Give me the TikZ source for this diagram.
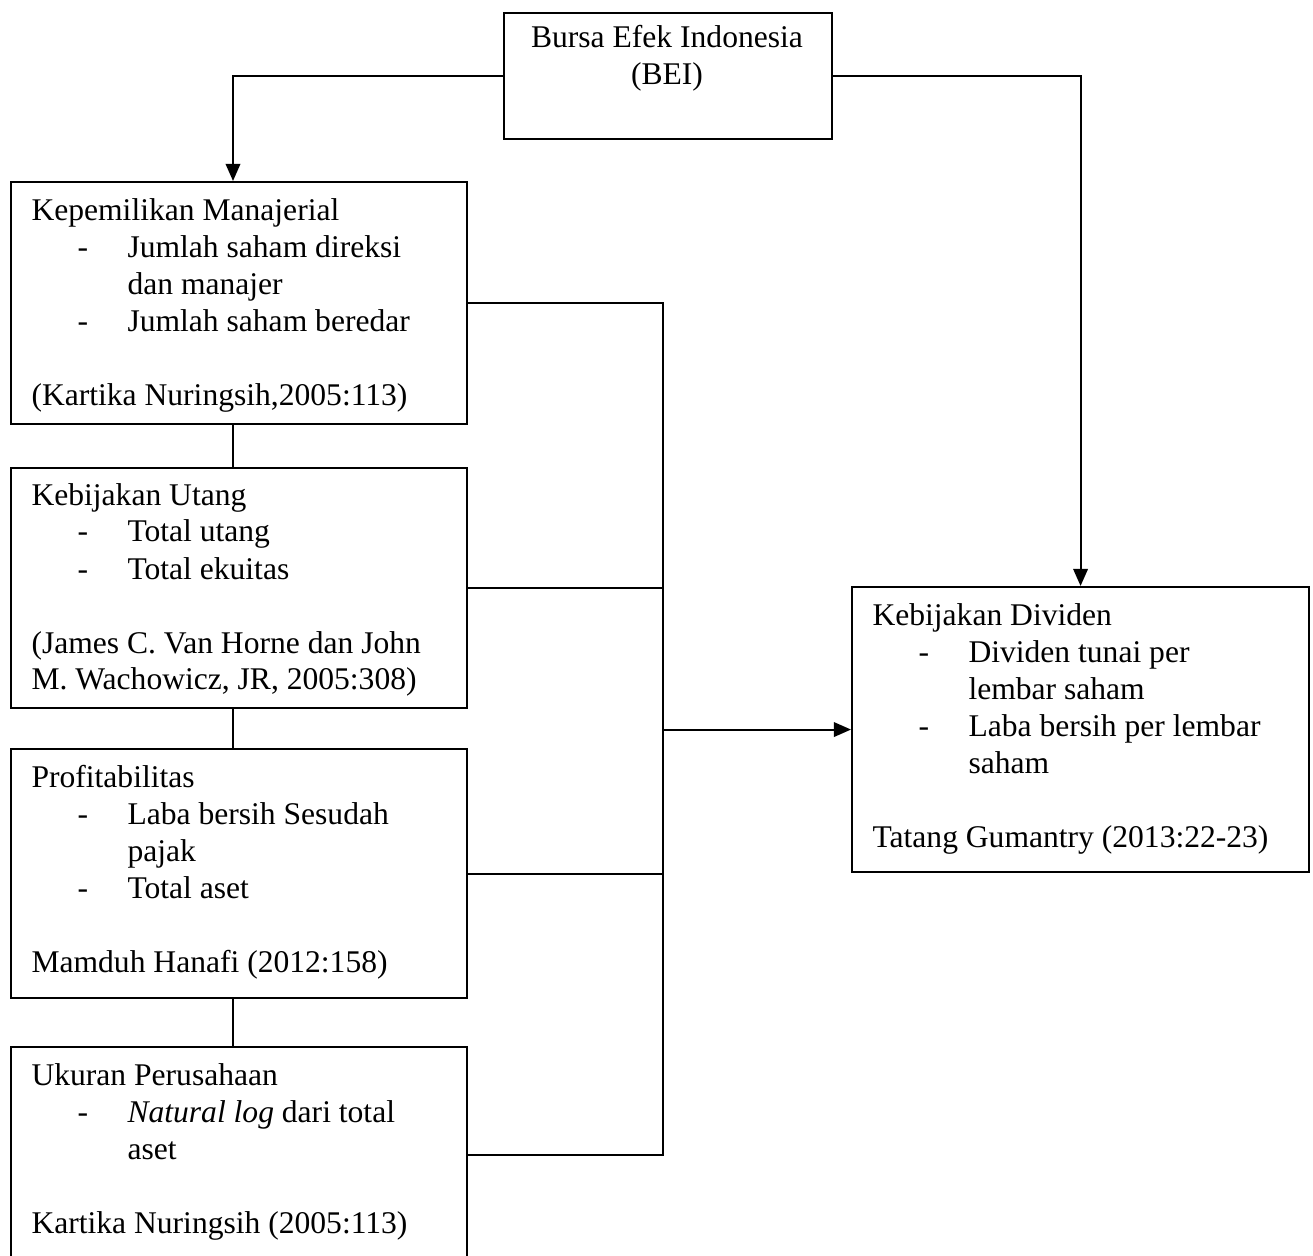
\documentclass[tikz,border=0pt]{standalone}
\usepackage{fontspec}
\setmainfont{Liberation Serif}
\usetikzlibrary{arrows.meta}
\newlength{\px}\setlength{\px}{0.38pt}
\newcommand{\ditem}[1]{\hspace*{46\px}\makebox[50\px][l]{-}#1}
\newcommand{\dcont}[1]{\hspace*{96\px}#1}
\begin{document}
\begin{tikzpicture}[x=\px, y=-\px,
  box/.style={draw, line width=0.8pt, rectangle, inner sep=0pt, anchor=north west},
  txt/.style={inner sep=0pt, anchor=base west, font=\fontsize{12pt}{14.06pt}\selectfont},
  conn/.style={line width=0.8pt},
  arr/.style={line width=0.8pt, -{Triangle[length=6.5pt, width=5.5pt]}}]
\useasboundingbox (0,0) rectangle (1313,1256);
% boxes
\node[box, minimum width=328\px, minimum height=126\px] (bei) at (503,12) {};
\node[box, minimum width=456\px, minimum height=242\px] (km) at (10,181) {};
\node[box, minimum width=456\px, minimum height=240\px] (ku) at (10,467) {};
\node[box, minimum width=456\px, minimum height=249\px] (pr) at (10,748) {};
\node[box, minimum width=456\px, minimum height=216\px] (uk) at (10,1046) {};
\node[box, minimum width=457\px, minimum height=285\px] (dv) at (851,586) {};
% texts
\node[txt, anchor=base] (tbei) at (667,48) {\parbox[t]{320\px}{\centering Bursa Efek Indonesia\\(BEI)}};
\node[txt] (tkm) at (31,221) {\parbox[t]{440\px}{\raggedright Kepemilikan Manajerial\\
\ditem{Jumlah saham direksi}\\
\dcont{dan manajer}\\
\ditem{Jumlah saham beredar}\\
\mbox{}\\
(Kartika Nuringsih,2005:113)}};
\node[txt] (tku) at (31,505) {\parbox[t]{440\px}{\raggedright Kebijakan Utang\\
\ditem{Total utang}\\
\ditem{Total ekuitas}\\
\mbox{}\\
(James C. Van Horne dan John\\
M. Wachowicz, JR, 2005:308)}};
\node[txt] (tpr) at (31,787) {\parbox[t]{440\px}{\raggedright Profitabilitas\\
\ditem{Laba bersih Sesudah}\\
\dcont{pajak}\\
\ditem{Total aset}\\
\mbox{}\\
Mamduh Hanafi (2012:158)}};
\node[txt] (tuk) at (31,1085) {\parbox[t]{440\px}{\raggedright Ukuran Perusahaan\\
\ditem{\textit{Natural log} dari total}\\
\dcont{aset}\\
\mbox{}\\
Kartika Nuringsih (2005:113)}};
\node[txt] (tdv) at (872,625) {\parbox[t]{440\px}{\raggedright Kebijakan Dividen\\
\ditem{Dividen tunai per}\\
\dcont{lembar saham}\\
\ditem{Laba bersih per lembar}\\
\dcont{saham}\\
\mbox{}\\
Tatang Gumantry (2013:22-23)}};
% helper coordinates
\coordinate (lx) at (233,0);
\coordinate (bus) at (663,0);
% connectors
\draw[arr] (bei.west) -| (km.north -| lx);
\draw[arr] (bei.east) -| (dv.north);
\draw[conn] (km.south -| lx) -- (ku.north -| lx);
\draw[conn] (ku.south -| lx) -- (pr.north -| lx);
\draw[conn] (pr.south -| lx) -- (uk.north -| lx);
\draw[conn] (km.east) -- (km.east -| bus) -- (uk.east -| bus) -- (uk.east);
\draw[conn] (ku.east) -- (ku.east -| bus);
\draw[conn] (pr.east) -- (pr.east -| bus);
\draw[arr] (dv.west -| bus) -- (dv.west);
\end{tikzpicture}
\end{document}
